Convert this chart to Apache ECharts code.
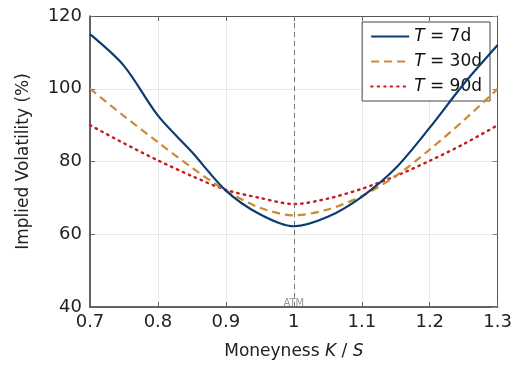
<!DOCTYPE html>
<html>
<head>
<meta charset="utf-8">
<script src="https://cdn.jsdelivr.net/npm/echarts@6/dist/echarts.min.js"></script>
<style>html,body{margin:0;padding:0;background:#fff;}#c{width:515px;height:367px;}</style>
</head>
<body>
<div id="c"></div>
<script>
const moneyness = [0.70, 0.75, 0.80, 0.85, 0.90, 0.95, 1.00, 1.05, 1.10, 1.15, 1.20, 1.25, 1.30];
const iv7d  = [115, 106.3, 92.6, 82.6, 72, 65.5, 62.2, 64.8, 70.3, 78.2, 89.3, 101.3, 112];
const iv30d = [100, 92.5, 85.3, 78.3, 72, 67.3, 65.2, 66.8, 70.5, 76, 83.3, 91.3, 100];
const iv90d = [90, 85, 80.3, 76, 72.2, 70, 68.3, 69.8, 72.5, 76, 80.2, 84.8, 90];
const seriesNames = ['T = 7d', 'T = 30d', 'T = 90d'];
const xTicks = ['0.7', '0.8', '0.9', '1', '1.1', '1.2', '1.3'];
const yTicks = ['40', '60', '80', '100', '120'];
const atmStrike = 1.0;

const pairs = arr => moneyness.map((m, i) => [m, arr[i]]);
const font = 'DejaVu Sans';
const colors = ['#0b3c74', '#cc8a33', '#cc1a1a'];

const chart = echarts.init(document.getElementById('c'), null, {renderer: 'canvas'});
const gridLine = {show: true, lineStyle: {color: '#e8e8e8', width: 1}};
const option = {
  animation: false,
  backgroundColor: '#fff',
  grid: {left: 90, top: 16, right: 16, bottom: 60},
  legend: {
    right: 25, top: 22, orient: 'vertical',
    backgroundColor: '#fff', borderColor: '#444', borderWidth: 1,
    padding: [6, 8, 6, 8], itemGap: 8, itemWidth: 38, itemHeight: 14,
    itemStyle: {opacity: 0},
    formatter: name => '{i|T} = ' + name.split('= ')[1],
    textStyle: {fontFamily: font, fontSize: 17, color: '#111',
      rich: {i: {fontStyle: 'italic', fontFamily: font, fontSize: 17, color: '#111'}}},
    data: seriesNames
  },
  xAxis: [{
    type: 'value', min: 0.7, max: 1.3, interval: 0.1,
    name: '{n|Moneyness }{i|K}{n| / }{i|S}', nameLocation: 'middle', nameGap: 36,
    nameTextStyle: {fontFamily: font, fontSize: 17, color: '#222',
      rich: {n: {fontFamily: font, fontSize: 17, color: '#222'}, i: {fontFamily: font, fontSize: 17, fontStyle: 'italic', color: '#222'}}},
    axisLine: {show: true, onZero: false, lineStyle: {color: '#333', width: 1.5}},
    axisTick: {show: true, inside: true, length: 5, lineStyle: {color: '#666'}},
    axisLabel: {fontFamily: font, fontSize: 18, color: '#222', margin: 6,
      formatter: v => xTicks[Math.round((v - 0.7) * 10)]},
    splitLine: gridLine
  }, {
    type: 'value', position: 'top', min: 0.7, max: 1.3, interval: 0.1,
    axisLine: {show: true, onZero: false, lineStyle: {color: '#555', width: 1}},
    axisTick: {show: true, inside: true, length: 5, lineStyle: {color: '#666'}},
    axisLabel: {show: false}, splitLine: {show: false}
  }],
  yAxis: [{
    type: 'value', min: 40, max: 120, interval: 20,
    name: 'Implied Volatility (%)', nameLocation: 'middle', nameGap: 58,
    nameTextStyle: {fontFamily: font, fontSize: 17, color: '#222'},
    axisLine: {show: true, onZero: false, lineStyle: {color: '#333', width: 1.5}},
    axisTick: {show: true, inside: true, length: 5, lineStyle: {color: '#666'}},
    axisLabel: {fontFamily: font, fontSize: 18, color: '#222', margin: 8,
      formatter: v => yTicks[Math.round((v - 40) / 20)]},
    splitLine: gridLine
  }, {
    type: 'value', position: 'right', min: 40, max: 120, interval: 20,
    axisLine: {show: true, onZero: false, lineStyle: {color: '#555', width: 1}},
    axisTick: {show: true, inside: true, length: 5, lineStyle: {color: '#888'}},
    axisLabel: {show: false}, splitLine: {show: false}
  }],
  series: [
    {name: seriesNames[0], type: 'line', data: pairs(iv7d), smooth: 0.3, showSymbol: false, symbol: 'none',
      lineStyle: {color: colors[0], width: 2.2, type: 'solid'}, itemStyle: {color: colors[0]}, z: 5,
      markLine: {
        silent: true, symbol: 'none',
        lineStyle: {color: '#777', type: [5, 4], width: 1},
        label: {show: true, position: 'start', formatter: 'ATM', color: '#999', fontFamily: font, fontSize: 10, offset: [0, -14]},
        data: [{xAxis: atmStrike}]
      }},
    {name: seriesNames[1], type: 'line', data: pairs(iv30d), smooth: 0.3, showSymbol: false, symbol: 'none',
      lineStyle: {color: colors[1], width: 2.2, type: [8, 5]}, itemStyle: {color: colors[1]}, z: 4},
    {name: seriesNames[2], type: 'line', data: pairs(iv90d), smooth: 0.3, showSymbol: false, symbol: 'none',
      lineStyle: {color: colors[2], width: 2.4, type: [1.5, 5], cap: 'round'}, itemStyle: {color: colors[2]}, z: 3}
  ]
};
chart.setOption(option);
</script>
</body>
</html>
